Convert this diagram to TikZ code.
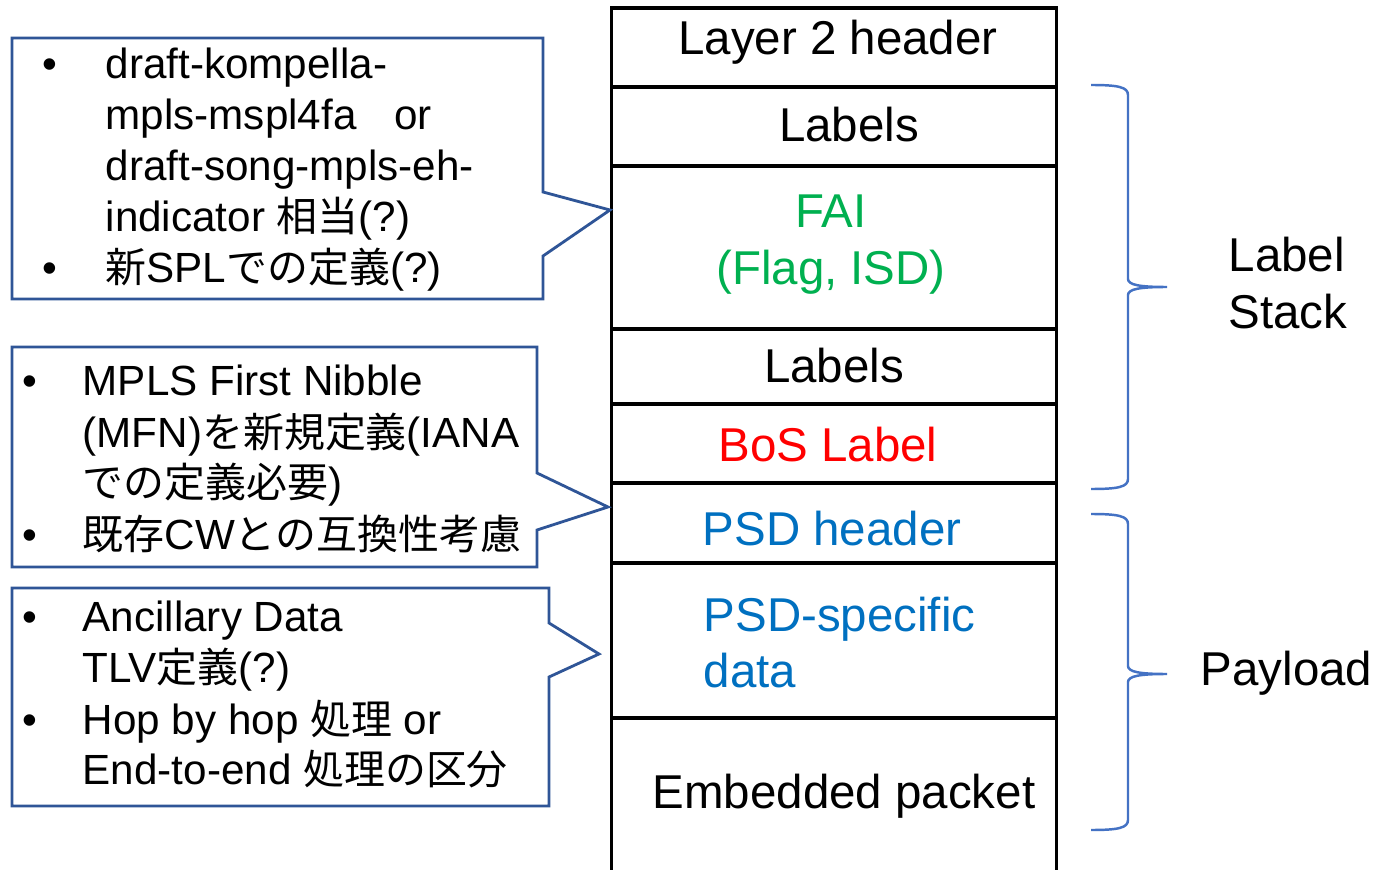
\documentclass[tikz,border=0pt]{standalone}
\usepackage{fontspec}
\setmainfont{Liberation Sans}
\newfontfamily\jp[Scale=0.97]{Noto Sans CJK JP}
\definecolor{faigreen}{HTML}{00B050}
\definecolor{bosred}{HTML}{FF0000}
\definecolor{psdblue}{HTML}{0070C0}
\definecolor{calloutblue}{HTML}{2F5597}
\definecolor{braceblue}{HTML}{4472C4}
\tikzset{
  cellbox/.style={draw=black, line width=0.9pt, minimum width=4.44cm, inner sep=0pt},
  bigtext/.style={inner sep=0pt, font=\fontsize{13.5}{16}\selectfont},
  notetext/.style={inner sep=0pt, anchor=base west, font=\fontsize{12}{14.5}\selectfont},
  callout/.style={draw=calloutblue, line width=0.8pt, line join=miter},
  bracepath/.style={draw=braceblue, line width=0.7pt}
}
\begin{document}
\begin{tikzpicture}[x=0.01cm, y=-0.01cm]
\clip (0,0) rectangle (1375,870);
\fill[white] (0,0) rectangle (1375,870);

% packet layout, top to bottom
\node[cellbox, minimum height=0.79cm] (l2)   at (834,47.5)  {};
\node[cellbox, minimum height=0.79cm] (lab1) at (834,126.5) {};
\node[cellbox, minimum height=1.63cm] (fai)  at (834,247.5) {};
\node[cellbox, minimum height=0.75cm] (lab2) at (834,366.5) {};
\node[cellbox, minimum height=0.79cm] (bos)  at (834,443.5) {};
\node[cellbox, minimum height=0.80cm] (psdh) at (834,523)   {};
\node[cellbox, minimum height=1.55cm] (psdd) at (834,640.5) {};
\node[cellbox, minimum height=1.82cm] (emb)  at (834,809)   {};

\node[bigtext, anchor=base] (t-l2)   at (838,55)  {Layer 2 header};
\node[bigtext, anchor=base] (t-lab1) at (849,142) {Labels};
\node[bigtext, anchor=base, text=faigreen] (t-fai1) at (831,228) {FAI};
\node[bigtext, anchor=base, text=faigreen] (t-fai2) at (831,285) {(Flag, ISD)};
\node[bigtext, anchor=base] (t-lab2) at (834,383) {Labels};
\node[bigtext, anchor=base, text=bosred] (t-bos) at (828,462) {BoS Label};
\node[bigtext, anchor=base, text=psdblue] (t-psdh) at (832,545) {PSD header};
\node[bigtext, anchor=base west, text=psdblue] (t-psdd1) at (703,631) {PSD-specific};
\node[bigtext, anchor=base west, text=psdblue] (t-psdd2) at (703,687) {data};
\node[bigtext, anchor=base] (t-emb) at (844,808) {Embedded packet};

% braces and group names
\draw[bracepath] (1091,85) .. controls (1118,85) and (1128,87) .. (1128,95)
  -- (1128,279) .. controls (1128,285) and (1140,287) .. (1167,287)
  .. controls (1140,287) and (1128,289) .. (1128,295)
  -- (1128,479) .. controls (1128,487) and (1118,489) .. (1091,489);
\draw[bracepath] (1091,514) .. controls (1118,514) and (1128,516) .. (1128,524)
  -- (1128,666) .. controls (1128,672) and (1140,674) .. (1167,674)
  .. controls (1140,674) and (1128,676) .. (1128,682)
  -- (1128,820) .. controls (1128,828) and (1118,830) .. (1091,830);
\node[bigtext, anchor=base west] (stack1) at (1228,272) {Label};
\node[bigtext, anchor=base west] (stack2) at (1228,328) {Stack};
\node[bigtext, anchor=base west] (payload) at (1200,685) {Payload};

% callout outlines
\coordinate (tip1) at (610,210);
\coordinate (tip2) at (608,507);
\coordinate (tip3) at (599,654);
\draw[callout] (12,38) -- (543,38) -- (543,192) -- (tip1) -- (543,256)
  -- (543,299) -- (12,299) -- cycle;
\draw[callout] (12,347) -- (537,347) -- (537,473) -- (tip2) -- (537,530)
  -- (537,567) -- (12,567) -- cycle;
\draw[callout] (12,588) -- (549,588) -- (549,623) -- (tip3) -- (549,677)
  -- (549,806) -- (12,806) -- cycle;

% first callout
\node[notetext] (b1a) at (42,79)  {•};
\node[notetext] (n1a) at (105,79)  {draft-kompella-};
\node[notetext] (n1b) at (105,130) {mpls-mspl4fa\hspace{0.9em}or};
\node[notetext] (n1c) at (105,181) {draft-song-mpls-eh-};
\node[notetext] (n1d) at (105,232) {indicator {\jp 相当}(?)};
\node[notetext] (b1b) at (42,283) {•};
\node[notetext] (n1e) at (105,283) {{\jp 新}SPL{\jp での定義}(?)};

% second callout
\node[notetext] (b2a) at (22,396) {•};
\node[notetext] (n2a) at (82,396) {MPLS First Nibble};
\node[notetext] (n2b) at (82,447) {(MFN){\jp を新規定義}(IANA};
\node[notetext] (n2c) at (82,498) {{\jp での定義必要}) };
\node[notetext] (b2b) at (22,549) {•};
\node[notetext] (n2d) at (82,549) {{\jp 既存}CW{\jp との互換性考慮}};

% third callout
\node[notetext] (b3a) at (22,631) {•};
\node[notetext] (n3a) at (82,631) {Ancillary Data};
\node[notetext] (n3b) at (82,682) {TLV{\jp 定義}(?)};
\node[notetext] (b3b) at (22,734) {•};
\node[notetext] (n3c) at (82,734) {Hop by hop {\jp 処理} or};
\node[notetext] (n3d) at (82,784) {End-to-end {\jp 処理の区分}};
\end{tikzpicture}
\end{document}
